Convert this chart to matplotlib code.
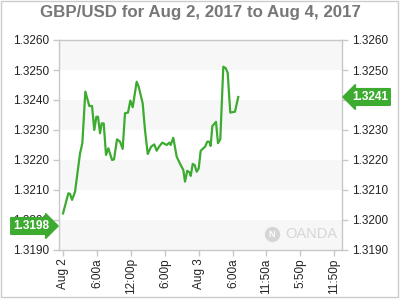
import matplotlib
matplotlib.use("Agg")
import matplotlib.pyplot as plt
import matplotlib.transforms as mtransforms
from matplotlib.patches import Rectangle

plt.rcParams["font.family"] = ["Liberation Sans", "DejaVu Sans"]

# hours since Aug 2 00:00 and GBP/USD price
hours = [0.0, 0.94, 1.24, 1.59, 2.12, 3.0, 3.41, 3.94, 4.64, 5.12, 5.52, 5.88, 6.18,
         6.53, 6.83, 7.18, 7.59, 8.0, 8.65, 9.0, 9.53, 10.06, 10.53, 10.94, 11.47,
         11.88, 12.3, 13.0, 13.36, 14.06, 14.47, 14.95, 15.53, 16.11, 16.53, 16.94,
         17.52, 18.0, 18.3, 18.76, 19.0, 19.46, 20.06, 20.77, 21.23, 21.53, 21.93,
         22.36, 22.54, 22.89, 23.24, 23.59, 23.95, 24.3, 25.06, 25.46, 25.82, 26.06,
         26.35, 27.0, 27.35, 27.76, 28.29, 28.71, 29.06, 29.52, 30.35, 30.93]
prices = [1.32022, 1.32089, 1.32087, 1.32067, 1.32094, 1.32222, 1.32256, 1.32428,
          1.32380, 1.32380, 1.32300, 1.32344, 1.32344, 1.32289, 1.32322, 1.32322,
          1.32217, 1.32239, 1.32200, 1.32202, 1.32269, 1.32261, 1.32237, 1.32356,
          1.32358, 1.32398, 1.32376, 1.32461, 1.32444, 1.32389, 1.32300, 1.32220,
          1.32244, 1.32252, 1.32231, 1.32244, 1.32258, 1.32253, 1.32250, 1.32258,
          1.32250, 1.32274, 1.32211, 1.32183, 1.32167, 1.32128, 1.32164, 1.32158,
          1.32147, 1.32187, 1.32183, 1.32161, 1.32172, 1.32231, 1.32244, 1.32261,
          1.32261, 1.32247, 1.32313, 1.32327, 1.32256, 1.32269, 1.32511, 1.32506,
          1.32491, 1.32358, 1.32361, 1.32410]

tick_hours = [0, 6, 12, 18, 24, 30, 35.833, 41.833, 47.833]
tick_labels = ["Aug 2", "6:00a", "12:00p", "6:00p", "Aug 3", "6:00a",
               "11:50a", "5:50p", "11:50p"]
y_ticks = [1.3190, 1.3200, 1.3210, 1.3220, 1.3230, 1.3240, 1.3250, 1.3260]
left_label = 1.3198
last_price = 1.3241

green = "#3cab30"
grid_gray = "#c8c8c8"

fig = plt.figure(figsize=(4, 3), dpi=100)
fig.patches.append(Rectangle((1 / 400, 3 / 300), 397 / 400, 296 / 300,
                             transform=fig.transFigure, fill=False,
                             edgecolor="#cccccc", linewidth=1))
ax = fig.add_axes([59 / 400, 50 / 300, 283 / 400, 210 / 300])

# alternating background bands
for i in range(0, len(y_ticks) - 1, 2):
    ax.axhspan(y_ticks[i], y_ticks[i + 1], color="#f7f7f7", zorder=0, lw=0)

ax.plot(hours, prices, color=green, linewidth=1.6, zorder=3)

ax.set_xlim(-0.71, 49.24)
ax.set_ylim(1.3190, 1.3260)
ax.set_yticks(y_ticks)
ax.set_yticklabels([f"{v:.4f}" for v in y_ticks])
ax.set_xticks(tick_hours)
ax.set_xticklabels(tick_labels, rotation=90)
ax.tick_params(axis="both", labelsize=8.5, colors=grid_gray, labelcolor="#222222",
               length=4, width=1)
ax.tick_params(axis="y", right=True, labelright=True, pad=3)
ax.tick_params(axis="x", pad=2)
for s in ax.spines.values():
    s.set_color(grid_gray)
    s.set_linewidth(1)

fig.text(0.5, 1 - 13 / 300, "GBP/USD for Aug 2, 2017 to Aug 4, 2017",
         ha="center", va="center", fontsize=12.2, fontweight="bold", color="#777777")

# price markers
trans = mtransforms.blended_transform_factory(ax.transAxes, ax.transData)
ax.text(1.035, last_price, f"{last_price:.4f}", transform=trans, ha="left", va="center",
        fontsize=8.5, fontweight="bold", color="white", zorder=5, clip_on=False,
        bbox=dict(boxstyle="larrow,pad=0.2", fc=green, ec=green))
ax.text(-0.035, left_label, f"{left_label:.4f}", transform=trans, ha="right", va="center",
        fontsize=8.5, fontweight="bold", color="white", zorder=5, clip_on=False,
        bbox=dict(boxstyle="rarrow,pad=0.2", fc=green, ec=green))

# watermark
ax.text(0.985, 0.045, "OANDA", transform=ax.transAxes, ha="right", va="bottom",
        fontsize=10.5, color="#d6d6d6", zorder=1)
ax.plot([0.753], [0.075], transform=ax.transAxes, marker="o", markersize=10,
        color="#d6d6d6", zorder=1, clip_on=False)
ax.text(0.753, 0.075, "N", transform=ax.transAxes, ha="center", va="center",
        fontsize=6.5, fontweight="bold", color="white", zorder=2)

fig.savefig("out.png", dpi=100)
